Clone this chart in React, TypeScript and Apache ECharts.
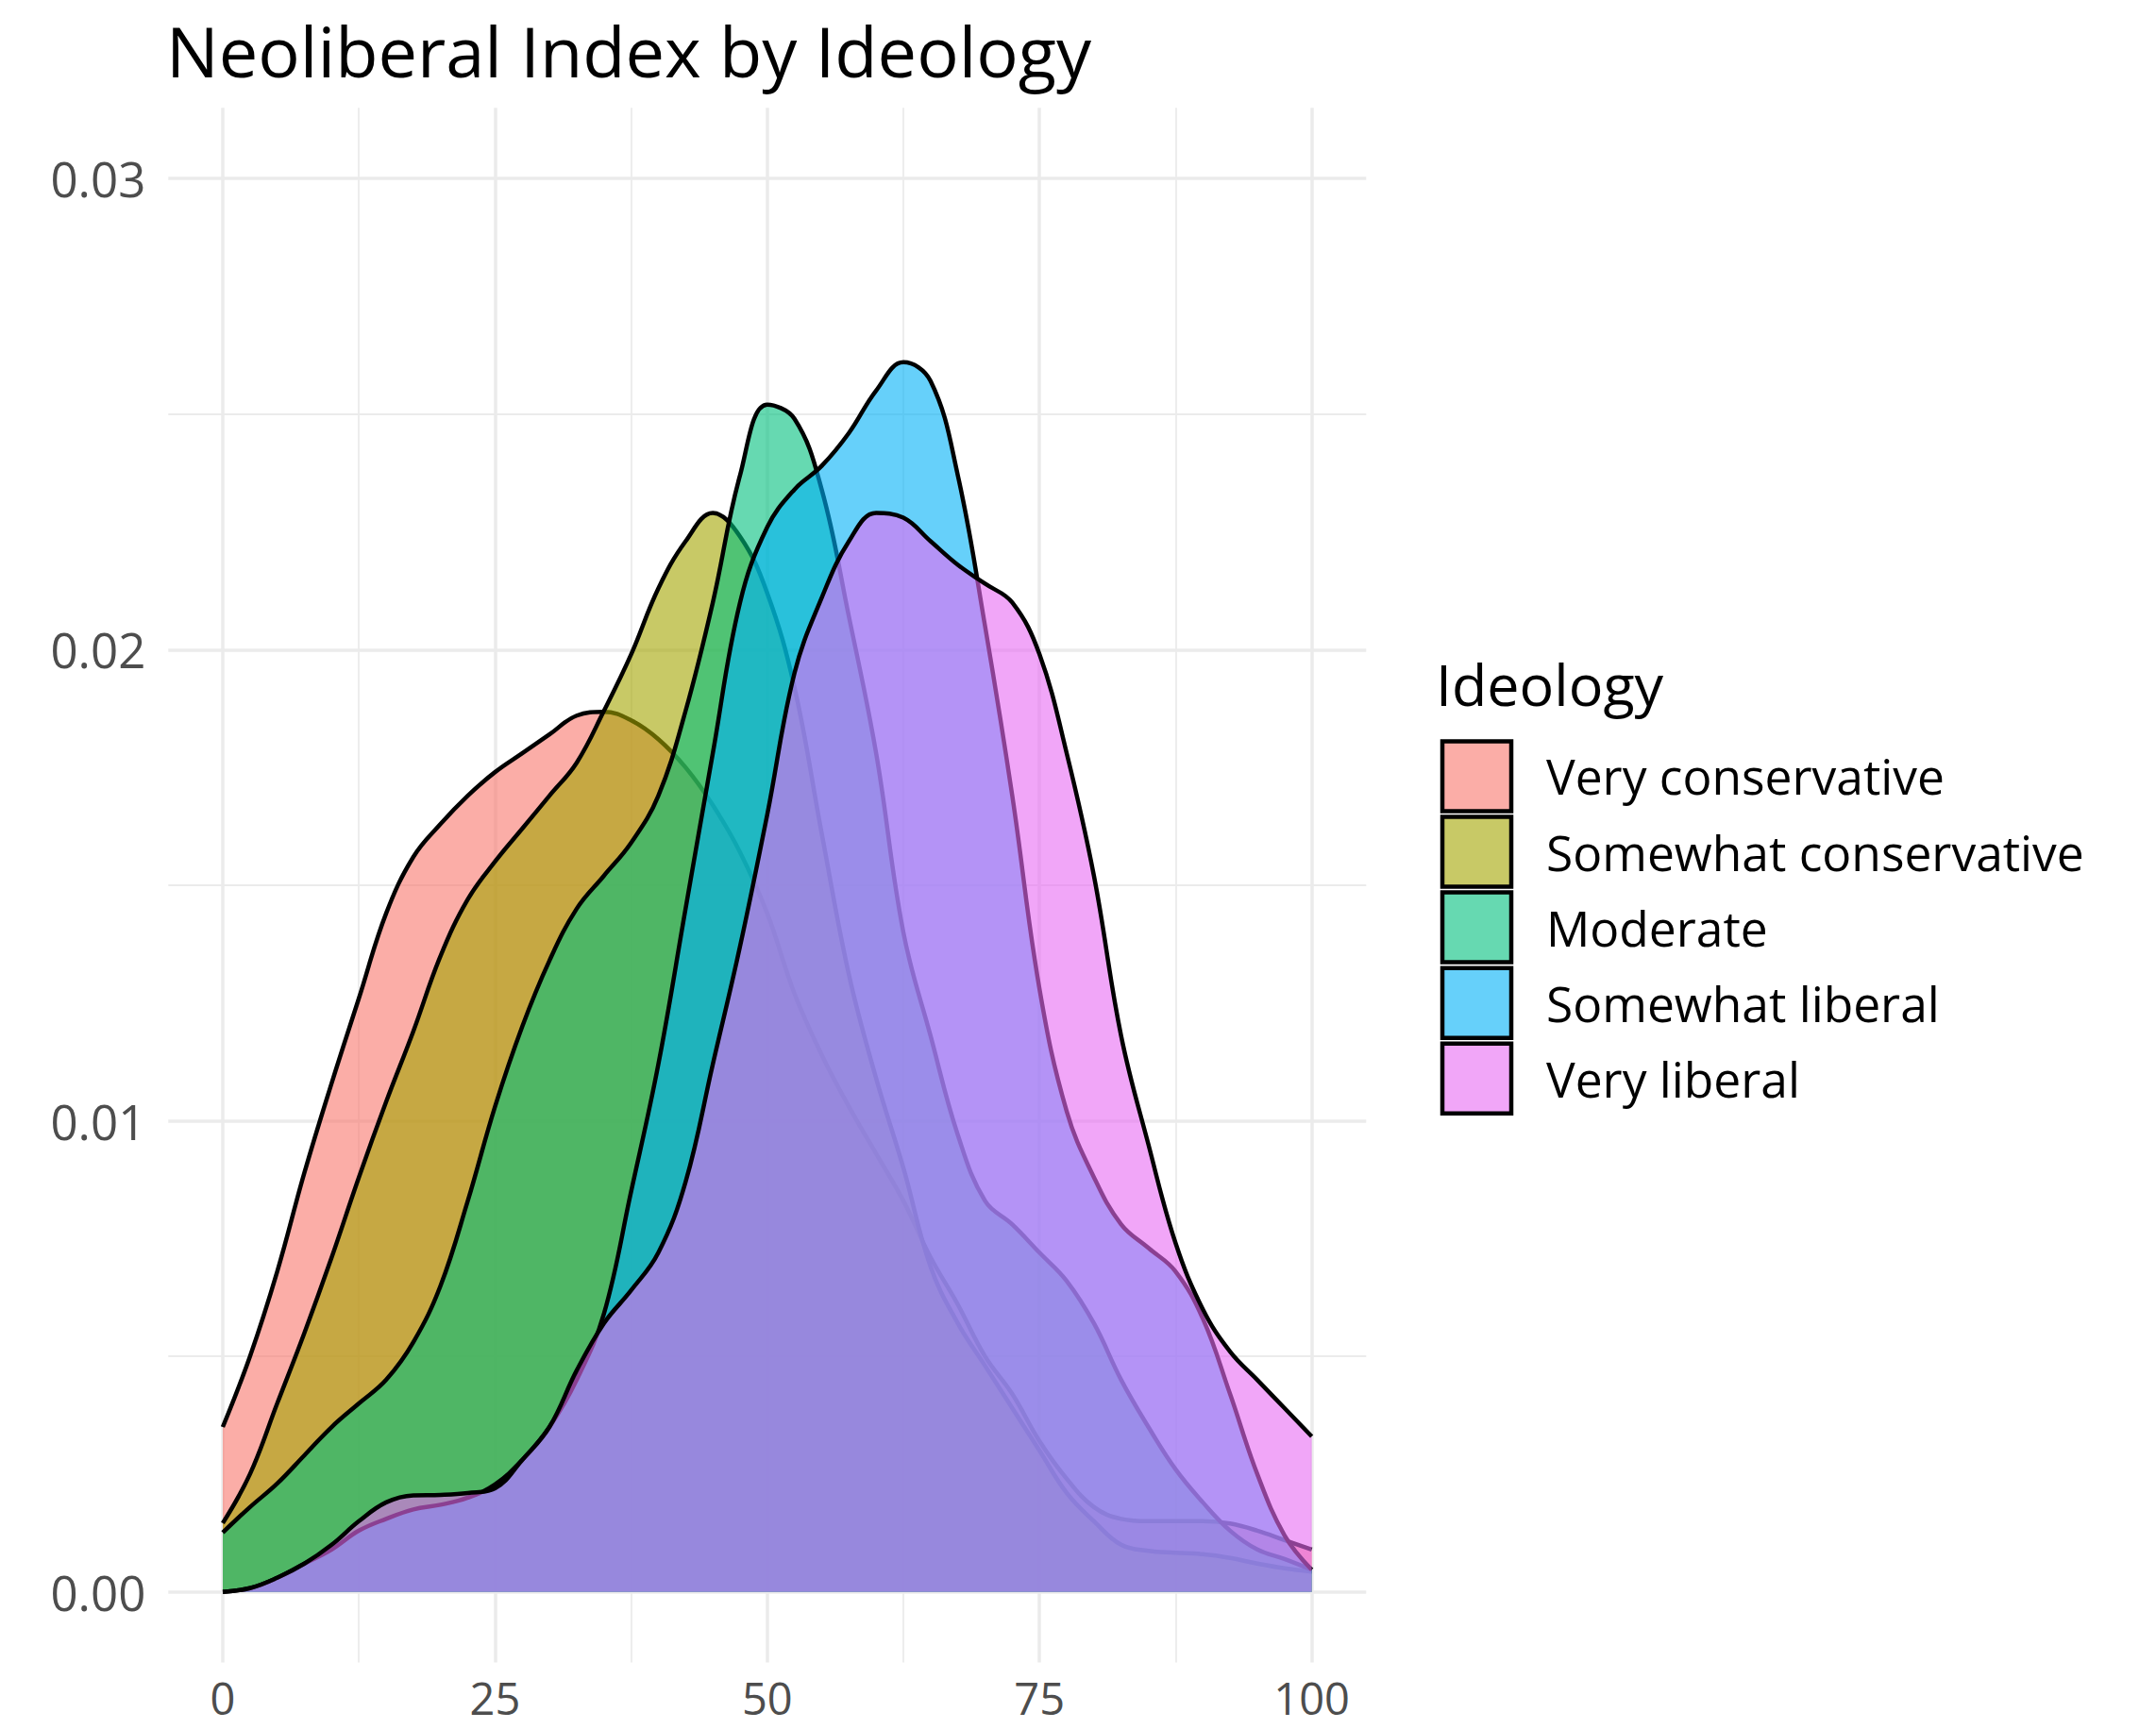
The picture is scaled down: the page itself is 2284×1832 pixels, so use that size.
import React, { useEffect, useRef } from "react";
import * as echarts from "echarts";

const TITLE = "Neoliberal Index by Ideology";
const LEGEND_TITLE = "Ideology";
const IDEOLOGIES = ["Very conservative", "Somewhat conservative", "Moderate", "Somewhat liberal", "Very liberal"];
const COLORS = ["#F8766D", "#A3A500", "#00BF7D", "#00B0F6", "#E76BF3"];

const X_VALUES = [0, 2.5, 5, 7.5, 10, 12.5, 15, 17.5, 20, 22.5, 25, 27.5, 30, 32.5, 35, 37.5, 40, 42.5, 45, 47.5, 50,
  52.5, 55, 57.5, 60, 62.5, 65, 67.5, 70, 72.5, 75, 77.5, 80, 82.5, 85, 87.5, 90, 92.5, 95, 97.5, 100];

const VERY_CONSERVATIVE = [0.0035, 0.005, 0.0068, 0.0089, 0.0108, 0.0126, 0.0144, 0.0156, 0.0163, 0.0169, 0.0174,
  0.0178, 0.0182, 0.0186, 0.01868, 0.0185, 0.0181, 0.0175, 0.0167, 0.0157, 0.0144, 0.0127, 0.0114, 0.0103, 0.0093,
  0.0083, 0.0071, 0.0061, 0.005, 0.0042, 0.0032, 0.0024, 0.0018, 0.00155, 0.0015, 0.0015, 0.0015, 0.00145, 0.0013,
  0.0011, 0.0009];
const SOMEWHAT_CONSERVATIVE = [0.00146, 0.0025, 0.004, 0.0055, 0.0071, 0.0088, 0.0104, 0.0119, 0.0135, 0.0147, 0.0155,
  0.0162, 0.0169, 0.0176, 0.0187, 0.0199, 0.0213, 0.0223, 0.0229, 0.0224, 0.0212, 0.0192, 0.0161, 0.0131, 0.0109,
  0.009, 0.0069, 0.0057, 0.0048, 0.0039, 0.003, 0.0021, 0.0015, 0.001, 0.00087, 0.00083, 0.0008, 0.00072, 0.0006,
  0.0005, 0.00043];
const MODERATE = [0.00126, 0.0018, 0.0023, 0.0029, 0.0035, 0.004, 0.0045, 0.0053, 0.0065, 0.0083, 0.0103, 0.012,
  0.0134, 0.0145, 0.0152, 0.0159, 0.0169, 0.0187, 0.021, 0.0237, 0.0252, 0.0249, 0.0234, 0.0207, 0.0178, 0.014,
  0.0118, 0.0097, 0.0083, 0.0078, 0.0072, 0.0066, 0.0057, 0.0045, 0.0035, 0.0026, 0.0019, 0.0013, 0.0009, 0.0007,
  0.00047];
const SOMEWHAT_LIBERAL = [0, 0.00008, 0.0003, 0.0006, 0.0009, 0.0013, 0.00155, 0.00175, 0.00185, 0.002, 0.00228,
  0.0028, 0.0035, 0.0045, 0.0059, 0.0085, 0.0112, 0.0145, 0.0178, 0.021, 0.0226, 0.0234, 0.0239, 0.0246, 0.0255,
  0.0261, 0.0257, 0.0237, 0.0205, 0.0169, 0.0128, 0.0102, 0.0088, 0.0078, 0.0073, 0.0068, 0.0058, 0.0042, 0.0025,
  0.0012, 0.00047];
const VERY_LIBERAL = [0, 0.00008, 0.0003, 0.0006, 0.001, 0.0015, 0.0019, 0.00205, 0.00206, 0.0021, 0.0022, 0.0028,
  0.0035, 0.0047, 0.0057, 0.0064, 0.0072, 0.0087, 0.0112, 0.0137, 0.0165, 0.0195, 0.0211, 0.0223, 0.0229, 0.0228,
  0.0223, 0.0218, 0.0214, 0.021, 0.0199, 0.0178, 0.0152, 0.0118, 0.0095, 0.0074, 0.006, 0.0051, 0.0045, 0.0039,
  0.0033];

const SERIES_VALUES = [VERY_CONSERVATIVE, SOMEWHAT_CONSERVATIVE, MODERATE, SOMEWHAT_LIBERAL, VERY_LIBERAL];

const X_MAJOR_TICKS = [0, 25, 50, 75, 100];
const X_MINOR_TICKS = [12.5, 37.5, 62.5, 87.5];
const Y_MAJOR_TICKS = [0, 0.01, 0.02, 0.03];
const Y_MINOR_TICKS = [0.005, 0.015, 0.025];

const FONT = "'Open Sans', 'Noto Sans', sans-serif";
const GRID_COLOR = "#EBEBEB";
const FILL_ALPHA = 0.6;

function rgba(hex: string, a: number) {
  const n = parseInt(hex.slice(1), 16);
  return `rgba(${(n >> 16) & 255},${(n >> 8) & 255},${n & 255},${a})`;
}

export default function App() {
  const ref = useRef<HTMLDivElement>(null);

  useEffect(() => {
    if (!ref.current) return;
    const chart = echarts.init(ref.current, undefined, { renderer: "svg" });

    const axisBase = (min: number, max: number) => ({
      type: "value" as const,
      min,
      max,
      z: 0,
      axisLine: { show: false },
      splitArea: { show: false },
    });

    const legendTop = 783.4;
    const legendStep = 80.1;
    const legendGraphics: any[] = [
      {
        type: "text",
        x: 1521,
        y: 724,
        style: {
          text: LEGEND_TITLE,
          fontFamily: FONT,
          fontSize: 61,
          fill: "#000",
          verticalAlign: "middle",
          align: "left",
        },
      },
    ];
    IDEOLOGIES.forEach((name, i) => {
      const top = legendTop + i * legendStep;
      legendGraphics.push({
        type: "rect",
        shape: { x: 1528, y: top + 2, width: 73, height: 74 },
        style: { fill: rgba(COLORS[i], FILL_ALPHA), stroke: "#000", lineWidth: 4.5 },
      });
      legendGraphics.push({
        type: "text",
        x: 1638,
        y: top + 39,
        style: {
          text: name,
          fontFamily: FONT,
          fontSize: 51.5,
          fill: "#000",
          verticalAlign: "middle",
          align: "left",
        },
      });
    });

    chart.setOption({
      animation: false,
      backgroundColor: "#FFFFFF",
      title: {
        text: TITLE,
        left: 176,
        top: 16,
        padding: 0,
        textStyle: { fontFamily: FONT, fontSize: 74, lineHeight: 74, fontWeight: "normal", color: "#000" },
      },
      grid: {
        left: 178.3,
        top: 114.3,
        width: 1269,
        height: 1647.3,
        containLabel: false,
        outerBoundsMode: "none",
      },
      xAxis: [
        {
          ...axisBase(-5, 105),
          axisTick: { show: false, customValues: X_MAJOR_TICKS },
          axisLabel: {
            customValues: X_MAJOR_TICKS,
            fontFamily: FONT,
            fontSize: 47,
            lineHeight: 47,
            color: "#4D4D4D",
            margin: 14,
          },
          splitLine: { show: true, lineStyle: { color: GRID_COLOR, width: 3.5 } },
        },
        {
          ...axisBase(-5, 105),
          axisTick: { show: false, customValues: X_MINOR_TICKS },
          axisLabel: { show: false, customValues: X_MINOR_TICKS },
          splitLine: { show: true, lineStyle: { color: GRID_COLOR, width: 1.8 } },
        },
      ],
      yAxis: [
        {
          ...axisBase(-0.0015, 0.0315),
          axisTick: { show: false, customValues: Y_MAJOR_TICKS },
          axisLabel: {
            customValues: Y_MAJOR_TICKS,
            fontFamily: FONT,
            fontSize: 51,
            lineHeight: 51,
            color: "#4D4D4D",
            margin: 24,
            formatter: (v: number) => v.toFixed(2),
          },
          splitLine: { show: true, lineStyle: { color: GRID_COLOR, width: 3.5 } },
        },
        {
          ...axisBase(-0.0015, 0.0315),
          axisTick: { show: false, customValues: Y_MINOR_TICKS },
          axisLabel: { show: false, customValues: Y_MINOR_TICKS },
          splitLine: { show: true, lineStyle: { color: GRID_COLOR, width: 1.8 } },
        },
      ],
      series: IDEOLOGIES.map((name, i) => ({
        name,
        type: "line",
        xAxisIndex: 0,
        yAxisIndex: 0,
        z: 10 + i * 2,
        data: X_VALUES.map((x, j) => [x, SERIES_VALUES[i][j]]),
        smooth: 0.4,
        symbol: "none",
        showSymbol: false,
        itemStyle: { color: COLORS[i] },
        lineStyle: { color: "#000", width: 4.5 },
        areaStyle: { color: COLORS[i], opacity: FILL_ALPHA },
        emphasis: { disabled: true },
        silent: true,
      })),
      graphic: legendGraphics,
    });

    return () => chart.dispose();
  }, []);

  return (
    <div
      ref={ref}
      style={{ position: "fixed", left: 0, top: 0, width: 2284, height: 1832, background: "#fff" }}
    />
  );
}
